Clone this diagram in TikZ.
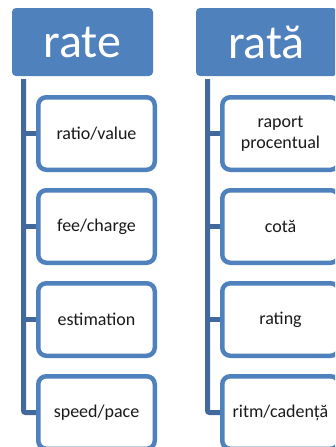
\documentclass[tikz,border=0pt]{standalone}
\usepackage{fontspec}
\setmainfont{Carlito}
\usepackage{tikz}
\usetikzlibrary{positioning}
\definecolor{hdrblue}{HTML}{4F81BD}
\definecolor{trunkblue}{HTML}{41699D}
\definecolor{itemtext}{HTML}{1A1A1A}
\tikzset{
  header/.style={fill=hdrblue, rounded corners=4pt, text=white, inner sep=0pt,
    minimum width=141pt, minimum height=68pt, font=\fontsize{48}{52}\selectfont},
  item/.style={draw=hdrblue, fill=white, line width=4.5pt, rounded corners=8pt,
    text=itemtext, inner sep=0pt, align=center, minimum width=116.5pt,
    minimum height=72.5pt, font=\fontsize{18}{21}\selectfont},
  trunk/.style={draw=trunkblue, line width=5pt, rounded corners=2pt},
}

\begin{document}
\begin{tikzpicture}[x=1pt, y=-1pt]
  % --- Definitions ---
  \def\gap{93} % vertical pitch of the item boxes
  \useasboundingbox (0,0) rectangle (335,447);
  \clip (0,0) rectangle (335,447);

  % --- 1. Headers ---
  \node[header] (hdrL) at (82.5, 42) {rate};
  \node[header] (hdrR) at (266.5, 42) {rată};

  % --- 2. Trunk tops ---
  \coordinate (tL) at (23.5, 79);
  \coordinate (tR) at (207.5, 79);

  % --- 3. Connectors ---
  % drawn first so the boxes cover the stub ends
  \coordinate (eL) at (96.5, 133.5+3*\gap);
  \coordinate (eR) at (280.5, 133.5+3*\gap);
  \draw[trunk] (tL) |- (eL);
  \draw[trunk] (tR) |- (eR);
  \draw[trunk] (tL |- 0,133.5) -- (96.5, 133.5);
  \draw[trunk] (tL |- 0,133.5+\gap) -- (96.5, 133.5+\gap);
  \draw[trunk] (tL |- 0,133.5+2*\gap) -- (96.5, 133.5+2*\gap);
  \draw[trunk] (tR |- 0,133.5) -- (280.5, 133.5);
  \draw[trunk] (tR |- 0,133.5+\gap) -- (280.5, 133.5+\gap);
  \draw[trunk] (tR |- 0,133.5+2*\gap) -- (280.5, 133.5+2*\gap);

  % --- 4. Items, English column ---
  \node[item] (ratio) at (96.5, 133.5) {ratio/value};
  \node[item] (fee)   at (96.5, 133.5+\gap) {fee/charge};
  \node[item] (est)   at (96.5, 133.5+2*\gap) {estimation};
  \node[item] (speed) at (eL) {speed/pace};

  % --- 5. Items, Romanian column ---
  \node[item] (raport) at (280.5, 133.5) {raport\\procentual};
  \node[item] (cota)   at (280.5, 133.5+\gap) {cotă};
  \node[item] (rating) at (280.5, 133.5+2*\gap) {rating};
  \node[item] (ritm)   at (eR) {ritm/cadență};
\end{tikzpicture}
\end{document}
